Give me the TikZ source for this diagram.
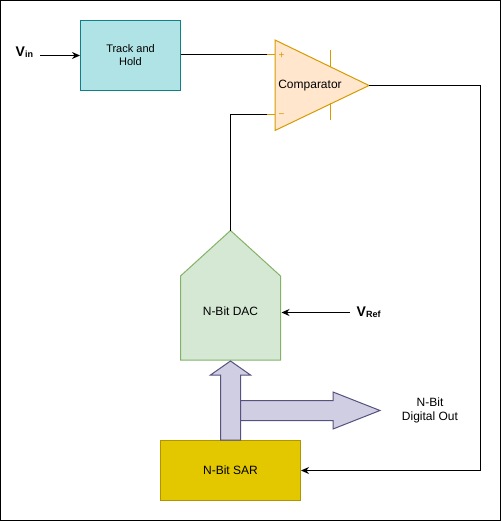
\documentclass[tikz,border=0pt]{standalone}
\usepackage{fontspec}
\setmainfont{Liberation Sans}
\usetikzlibrary{arrows.meta}
\definecolor{thfill}{HTML}{B0E3E6}
\definecolor{thline}{HTML}{0E8088}
\definecolor{cmpfill}{HTML}{FFE6CC}
\definecolor{cmpline}{HTML}{D79B00}
\definecolor{dacfill}{HTML}{D5E8D4}
\definecolor{dacline}{HTML}{82B366}
\definecolor{sarfill}{HTML}{E3C800}
\definecolor{sarline}{HTML}{B09500}
\definecolor{busfill}{HTML}{D0CEE2}
\definecolor{busline}{HTML}{56517E}
\tikzset{
  blockbox/.style={draw, line width=1pt, align=center, inner sep=0pt},
  lbl/.style={inner sep=0pt, align=center},
  f11/.style={font=\fontsize{11}{13}\selectfont},
  f12/.style={font=\fontsize{12}{14}\selectfont},
  wire/.style={draw=black, line width=1pt},
  arr/.style={wire, -{Stealth[length=8pt,width=7pt]}},
  bus/.style={draw=busline, fill=busfill, line width=1pt, line join=miter},
}
\newcommand{\fs}[2]{\fontsize{#1}{#2}\selectfont}
\begin{document}
\begin{tikzpicture}[x=1pt,y=-1pt]
\useasboundingbox (0,0) rectangle (501,521);
\draw[line width=1pt] (0.5,0.5) rectangle (500.5,520.5);

% Track and Hold
\node[blockbox, f11, draw=thline, fill=thfill, minimum width=100pt, minimum height=70pt] (th) at (130.5,55.5) {Track and\\Hold};

% Comparator
\coordinate (cp) at (275,55);
\coordinate (cm) at (275,115);
\coordinate (cpl) at (267,55);
\coordinate (cml) at (267,115);
\coordinate (cout) at (369,85.5);
\draw[draw=cmpline, fill=cmpfill, line width=1pt, line join=miter] (275,40) -- (cout) -- (275,130.5) -- cycle;
\draw[draw=cmpline, line width=1pt] (330,50) -- (330,67);
\draw[draw=cmpline, line width=1pt] (330,103.5) -- (330,120);
\draw[draw=cmpline, line width=1pt] (cpl) -- (cp);
\draw[draw=cmpline, line width=1pt] (cml) -- (cm);
\node[lbl, text=cmpline, font=\fontsize{10}{10}\selectfont] (plus) at (281.5,55.5) {+};
\node[lbl, text=cmpline, font=\fontsize{10}{10}\selectfont] (minus) at (281.5,115.5) {\textminus};
\node[lbl, f12] (cmp) at (310,85.5) {Comparator};

% DAC
\coordinate (dactop) at (230.5,230.5);
\draw[draw=dacline, fill=dacfill, line width=1pt, line join=miter] (dactop) -- (280.5,276) -- (280.5,360) -- (180.5,360) -- (180.5,276) -- cycle;
\node[lbl, f12] (dac) at (230.5,311) {N-Bit DAC};
\coordinate (dacin) at (281.5,312.5);

% SAR
\node[blockbox, f12, draw=sarline, fill=sarfill, minimum width=140pt, minimum height=60pt] (sar) at (230.5,470.5) {N-Bit SAR};

% Buses
\draw[bus] (240,400.5) -- (333,400.5) -- (333,392) -- (380,410.5) -- (333,429) -- (333,420.5) -- (240,420.5) -- cycle;
\draw[bus] (220.5,440) -- (220.5,375) -- (210.5,375) -- (230.5,361) -- (250.5,375) -- (240.5,375) -- (240.5,440) -- cycle;
\node[lbl, f12] (dout) at (430,410) {N-Bit\\Digital Out};

% Input labels
\node[lbl, anchor=west] (vin) at (15.5,52) {\fs{14}{14}\textbf{V}\raisebox{-1.5pt}{\fs{9}{9}\textbf{in}}};
\coordinate (vinstart) at (40,55.5);
\node[lbl, anchor=west] (vref) at (356.5,312) {\fs{14}{14}\textbf{V}\raisebox{-1.5pt}{\fs{9}{9}\textbf{Ref}}};
\coordinate (vrefstart) at (350,312.5);

% Wires
\coordinate (corner) at (480.5,85.5);
\draw[arr] (vinstart) -- (th.west);
\draw[wire] (th.east |- cpl) -- (cpl);
\draw[wire] (dactop) |- (cml);
\draw[arr] (cout) -- (corner) |- (sar.east);
\draw[arr] (vrefstart) -- (dacin);
\end{tikzpicture}
\end{document}
